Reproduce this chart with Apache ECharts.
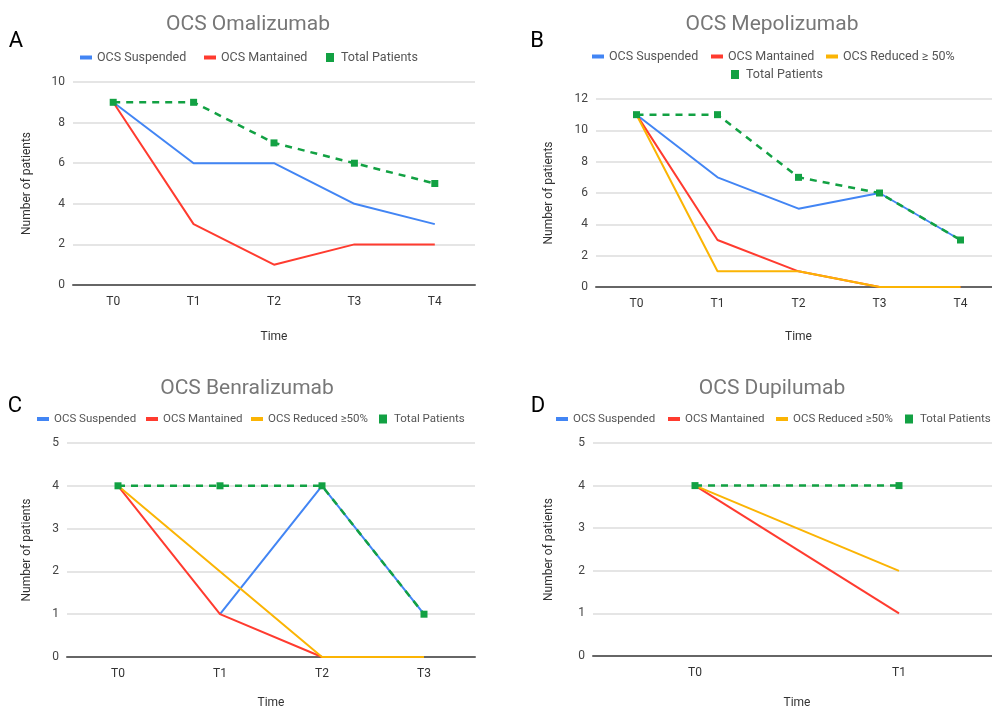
<!DOCTYPE html>
<html>
<head>
<meta charset="utf-8">
<script src="https://cdn.jsdelivr.net/npm/echarts@6/dist/echarts.min.js"></script>
<style>
  html, body { margin: 0; padding: 0; background: #fff; }
  #chart { width: 992px; height: 706px; }
</style>
</head>
<body>
<div id="chart"></div>
<script>
// panel data
var timesA = ['T0', 'T1', 'T2', 'T3', 'T4']
var omaSuspended = [9, 6, 6, 4, 3]
var omaMantained = [9, 3, 1, 2, 2]
var omaTotal = [9, 9, 7, 6, 5]

var timesB = ['T0', 'T1', 'T2', 'T3', 'T4']
var mepSuspended = [11, 7, 5, 6, 3]
var mepMantained = [11, 3, 1, 0, 0]
var mepReduced = [11, 1, 1, 0, 0]
var mepTotal = [11, 11, 7, 6, 3]

var timesC = ['T0', 'T1', 'T2', 'T3']
var benSuspended = [null, 1, 4, 1]
var benMantained = [4, 1, 0, 0]
var benReduced = [4, 2, 0, 0]
var benTotal = [4, 4, 4, 1]

var timesD = ['T0', 'T1']
var dupSuspended = [null, null]
var dupMantained = [4, 1]
var dupReduced = [4, 2]
var dupTotal = [4, 4]

var BLUE = '#4285F4'
var RED = '#FF3B2F'
var YELLOW = '#FBB404'
var GREEN = '#12A143'
var FONT = 'Roboto, Arial, sans-serif'

var lineIcon = 'path://M0,0h12v4h-12z'
var boxIcon = 'path://M0,0h8v9h-8z'

// one legend per entry so each sits where the original put it
function legendItem(name, x, y, size) {
  return {
    left: x, top: y, padding: 0,
    itemWidth: 12, itemHeight: 9,
    textStyle: { color: '#555', fontSize: size, fontFamily: FONT },
    selectedMode: false,
    data: [{ name: name, icon: name === 'Total Patients' ? boxIcon : lineIcon }]
  }
}

function lineSeries(name, data, color, i) {
  return {
    name: name, type: 'line', data: data,
    xAxisIndex: i, yAxisIndex: i,
    showSymbol: false, symbol: 'none',
    lineStyle: { color: color, width: 2 },
    itemStyle: { color: color },
    animation: false
  }
}

function totalSeries(data, i) {
  return {
    name: 'Total Patients', type: 'line', data: data,
    xAxisIndex: i, yAxisIndex: i,
    symbol: 'rect', symbolSize: 7,
    lineStyle: { color: GREEN, width: 2.5, type: [7, 6] },
    itemStyle: { color: GREEN },
    animation: false
  }
}

function xAxis(cats, i, gap) {
  return {
    type: 'category', gridIndex: i, data: cats,
    name: 'Time', nameLocation: 'middle', nameGap: gap,
    nameTextStyle: { color: '#333', fontSize: 12, fontFamily: FONT },
    axisLine: { lineStyle: { color: '#666', width: 2 } },
    axisTick: { show: false },
    axisLabel: { color: '#333', fontSize: 12, margin: 11, fontFamily: FONT }
  }
}

function yAxis(max, step, i, gap) {
  return {
    type: 'value', gridIndex: i, min: 0, max: max, interval: step,
    name: 'Number of patients', nameLocation: 'middle', nameGap: gap,
    nameTextStyle: { color: '#333', fontSize: 12, fontFamily: FONT },
    axisLine: { show: false },
    axisTick: { show: false },
    axisLabel: { color: '#444', fontSize: 12, margin: 8, fontFamily: FONT },
    splitLine: { lineStyle: { color: '#dcdcdc', width: 1.5 } }
  }
}

function label(text, x, y, size, color) {
  return {
    type: 'text', x: x, y: y,
    style: {
      text: text, fill: color, fontSize: size, fontFamily: FONT,
      align: 'center', verticalAlign: 'middle'
    }
  }
}

var chart = echarts.init(document.getElementById('chart'))

chart.setOption({
  backgroundColor: '#fff',
  graphic: [
    label('OCS Omalizumab', 248, 25, 21, '#777'),
    label('OCS Mepolizumab', 772, 25, 21, '#777'),
    label('OCS Benralizumab', 247, 389, 21, '#777'),
    label('OCS Dupilumab', 772, 389, 21, '#777'),
    label('A', 16, 41, 22, '#000'),
    label('B', 537, 41, 22, '#000'),
    label('C', 15, 406, 22, '#000'),
    label('D', 538, 406, 22, '#000')
  ],
  legend: [
    legendItem('OCS Suspended', 80, 51, 12.5),
    legendItem('OCS Mantained', 204, 51, 12.5),
    legendItem('Total Patients', 326, 51, 12.5),

    legendItem('OCS Suspended', 592, 50, 12.5),
    legendItem('OCS Mantained', 711, 50, 12.5),
    legendItem('OCS Reduced ≥ 50%', 826, 50, 12.5),
    legendItem('Total Patients', 731, 68, 12.5),

    legendItem('OCS Suspended', 37, 413, 11.5),
    legendItem('OCS Mantained', 146, 413, 11.5),
    legendItem('OCS Reduced ≥50%', 251, 413, 11.5),
    legendItem('Total Patients', 379, 413, 11.5),

    legendItem('OCS Suspended', 556, 413, 11.5),
    legendItem('OCS Mantained', 668, 413, 11.5),
    legendItem('OCS Reduced ≥50%', 776, 413, 11.5),
    legendItem('Total Patients', 905, 413, 11.5)
  ],
  grid: [
    { left: 73, width: 402, top: 82, bottom: 421, outerBoundsMode: 'none' },
    { left: 596, width: 405, top: 99, bottom: 419, outerBoundsMode: 'none' },
    { left: 67, width: 408, top: 443, bottom: 49, outerBoundsMode: 'none' },
    { left: 593, width: 408, top: 443, bottom: 50, outerBoundsMode: 'none' }
  ],
  xAxis: [
    xAxis(timesA, 0, 46),
    xAxis(timesB, 1, 44),
    xAxis(timesC, 2, 40),
    xAxis(timesD, 3, 41)
  ],
  yAxis: [
    yAxis(10, 2, 0, 40),
    yAxis(12, 2, 1, 41),
    yAxis(5, 1, 2, 34),
    yAxis(5, 1, 3, 38)
  ],
  series: [
    lineSeries('OCS Suspended', omaSuspended, BLUE, 0),
    lineSeries('OCS Mantained', omaMantained, RED, 0),
    totalSeries(omaTotal, 0),

    lineSeries('OCS Suspended', mepSuspended, BLUE, 1),
    lineSeries('OCS Mantained', mepMantained, RED, 1),
    lineSeries('OCS Reduced ≥ 50%', mepReduced, YELLOW, 1),
    totalSeries(mepTotal, 1),

    lineSeries('OCS Suspended', benSuspended, BLUE, 2),
    lineSeries('OCS Mantained', benMantained, RED, 2),
    lineSeries('OCS Reduced ≥50%', benReduced, YELLOW, 2),
    totalSeries(benTotal, 2),

    lineSeries('OCS Suspended', dupSuspended, BLUE, 3),
    lineSeries('OCS Mantained', dupMantained, RED, 3),
    lineSeries('OCS Reduced ≥50%', dupReduced, YELLOW, 3),
    totalSeries(dupTotal, 3)
  ]
})
</script>
</body>
</html>
